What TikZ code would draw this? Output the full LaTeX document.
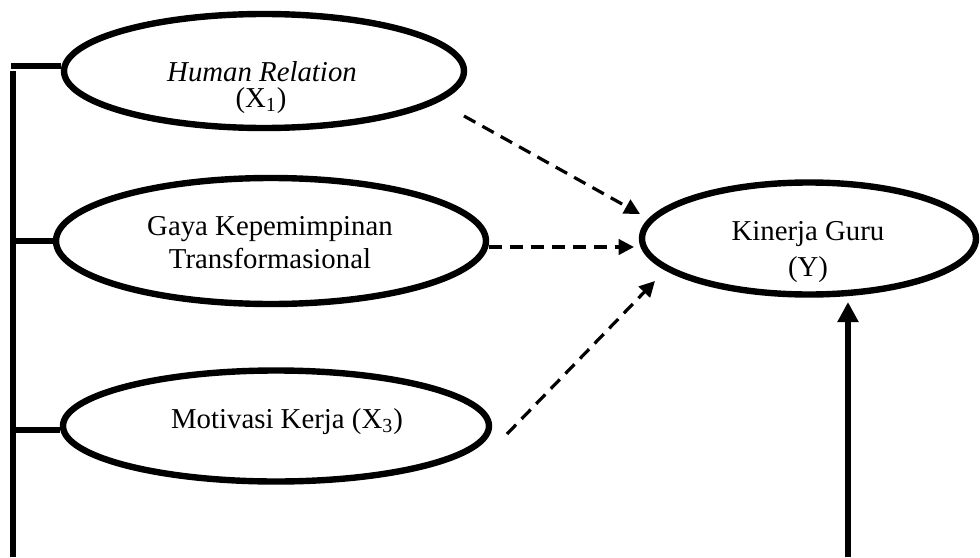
\documentclass[tikz,border=0pt]{standalone}
\usepackage{fontspec}
\setmainfont{Liberation Serif}
\usetikzlibrary{arrows.meta,shapes.geometric}
\begin{document}
\begin{tikzpicture}[x=0.5pt,y=-0.5pt,
  ell/.style={draw, ellipse, line width=3.2pt, inner sep=0pt},
  lbl/.style={anchor=base, inner sep=0pt, font=\fontsize{14.4}{16}\selectfont},
  dasharrow/.style={dash pattern=on 6.5pt off 4pt, line width=1.6pt, -{Triangle[length=7.75pt,width=7.75pt]}},
  solidline/.style={line width=3.3pt},
  solidarrow/.style={line width=3.3pt, -{Triangle[length=10pt,width=10pt]}}
]
\useasboundingbox (0,0) rectangle (980,557);
% ellipses
\node[ell, minimum width=200pt, minimum height=57pt] (e1) at (264,71) {};
\node[ell, minimum width=215pt, minimum height=63pt] (e2) at (271,241) {};
\node[ell, minimum width=213pt, minimum height=55.5pt] (e3) at (276,426) {};
\node[ell, minimum width=167pt, minimum height=56pt] (ey) at (809,238.5) {};
% labels
\node[lbl] (t1a) at (262,81) {\itshape Human Relation};
\node[lbl] (t1b) at (261,107) {(X\textsubscript{1})};
\node[lbl] (t2a) at (270,235) {Gaya Kepemimpinan};
\node[lbl] (t2b) at (270,268) {Transformasional};
\node[lbl] (t3) at (287,428) {Motivasi Kerja (X\textsubscript{3})};
\node[lbl] (tya) at (808,240) {Kinerja Guru};
\node[lbl] (tyb) at (808,276) {(Y)};
% left bracket line
\coordinate (lt) at (13,71);
\coordinate (lb) at (13,557);
\draw[solidline] (lb) -- (lt);
\draw[solidline] (11,66) -- (e1.west |- 0,66);
\draw[solidline] (lt |- e2.west) -- (e2.west);
\draw[solidline] (lt |- 0,430) -- (e3.west |- 0,430);
% dashed arrows
\coordinate (a1s) at (464,116);
\coordinate (a1e) at (640,214);
\coordinate (a2s) at (489,247);
\coordinate (a2e) at (634,247);
\coordinate (a3s) at (507,434);
\coordinate (a3e) at (655,281);
\draw[dasharrow] (a1s) -- (a1e);
\draw[dasharrow] (a2s) -- (a2e);
\draw[dasharrow] (a3s) -- (a3e);
% vertical solid arrow
\coordinate (rb) at (848,557);
\coordinate (rt) at (848,302);
\draw[solidarrow] (rb) -- (rt);
\end{tikzpicture}
\end{document}
